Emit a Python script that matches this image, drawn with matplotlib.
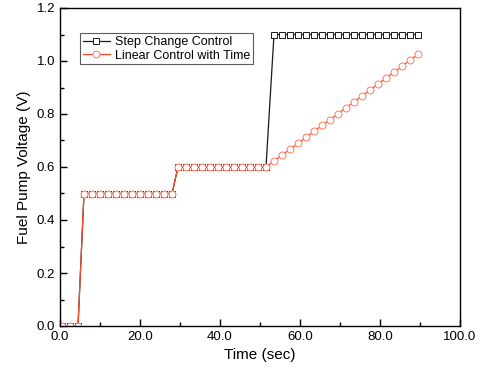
import matplotlib
matplotlib.use("Agg")
import matplotlib.pyplot as plt
from matplotlib.ticker import MultipleLocator, FormatStrFormatter

plt.rcParams['font.family'] = ['Liberation Sans', 'DejaVu Sans']

# Step change control
step_t = [0.5, 2.5, 4.5,
          6, 8, 10, 12, 14, 16, 18, 20, 22, 24, 26, 28,
          29.5, 31.5, 33.5, 35.5, 37.5, 39.5, 41.5, 43.5, 45.5, 47.5, 49.5, 51.5,
          53.5, 55.5, 57.5, 59.5, 61.5, 63.5, 65.5, 67.5, 69.5, 71.5, 73.5, 75.5,
          77.5, 79.5, 81.5, 83.5, 85.5, 87.5, 89.5]
step_v = [0.0, 0.0, 0.0,
          0.5, 0.5, 0.5, 0.5, 0.5, 0.5, 0.5, 0.5, 0.5, 0.5, 0.5, 0.5,
          0.6, 0.6, 0.6, 0.6, 0.6, 0.6, 0.6, 0.6, 0.6, 0.6, 0.6, 0.6,
          1.1, 1.1, 1.1, 1.1, 1.1, 1.1, 1.1, 1.1, 1.1, 1.1, 1.1, 1.1,
          1.1, 1.1, 1.1, 1.1, 1.1, 1.1, 1.1]

# Linear control with time
lin_t = [0.5, 2.5, 4.5,
         6, 8, 10, 12, 14, 16, 18, 20, 22, 24, 26, 28,
         29.5, 31.5, 33.5, 35.5, 37.5, 39.5, 41.5, 43.5, 45.5, 47.5, 49.5,
         51.5, 53.5, 55.5, 57.5, 59.5, 61.5, 63.5, 65.5, 67.5, 69.5,
         71.5, 73.5, 75.5, 77.5, 79.5, 81.5, 83.5, 85.5, 87.5, 89.5]
lin_v = [0.0, 0.0, 0.0,
         0.5, 0.5, 0.5, 0.5, 0.5, 0.5, 0.5, 0.5, 0.5, 0.5, 0.5, 0.5,
         0.6, 0.6, 0.6, 0.6, 0.6, 0.6, 0.6, 0.6, 0.6, 0.6, 0.6,
         0.600, 0.622, 0.645, 0.667, 0.689, 0.712, 0.734, 0.757, 0.779, 0.801,
         0.824, 0.846, 0.868, 0.891, 0.913, 0.936, 0.958, 0.980, 1.003, 1.025]

fig = plt.figure(figsize=(4.82, 3.75), dpi=100)
ax = fig.add_axes([60/482, 1 - 326/375, 400/482, 318/375])

ax.plot(step_t, step_v, color='#1a1a1a', lw=0.9, marker='s', ms=4.6,
        mfc='white', mec='#1a1a1a', mew=0.7, label='Step Change Control')
ax.plot(lin_t, lin_v, color='#ff4a2a', lw=0.9, marker='o', ms=5,
        mfc='white', mec='#ff7a60', mew=0.7, label='Linear Control with Time')

ax.set_xlim(0, 100)
ax.set_ylim(0, 1.2)
ax.xaxis.set_major_locator(MultipleLocator(20))
ax.xaxis.set_minor_locator(MultipleLocator(10))
ax.yaxis.set_major_locator(MultipleLocator(0.2))
ax.yaxis.set_minor_locator(MultipleLocator(0.1))
ax.xaxis.set_major_formatter(FormatStrFormatter('%.1f'))
ax.yaxis.set_major_formatter(FormatStrFormatter('%.1f'))
ax.tick_params(which='both', direction='in', labelsize=9.5, width=1, colors='black')
ax.tick_params(which='major', length=5)
ax.tick_params(which='minor', length=3)
ax.tick_params(top=False, right=False, which='both')
for s in ax.spines.values():
    s.set_linewidth(1)

ax.set_xlabel('Time (sec)', fontsize=11)
ax.set_ylabel('Fuel Pump Voltage (V)', fontsize=11)

leg = ax.legend(loc='upper left', bbox_to_anchor=(0.05, 0.92), fontsize=9,
                frameon=True, fancybox=False, edgecolor='#333333',
                borderpad=0.2, labelspacing=0.15, handlelength=2.2,
                handletextpad=0.4, borderaxespad=0)
leg.get_frame().set_linewidth(0.8)

fig.savefig('out.png', dpi=100)
